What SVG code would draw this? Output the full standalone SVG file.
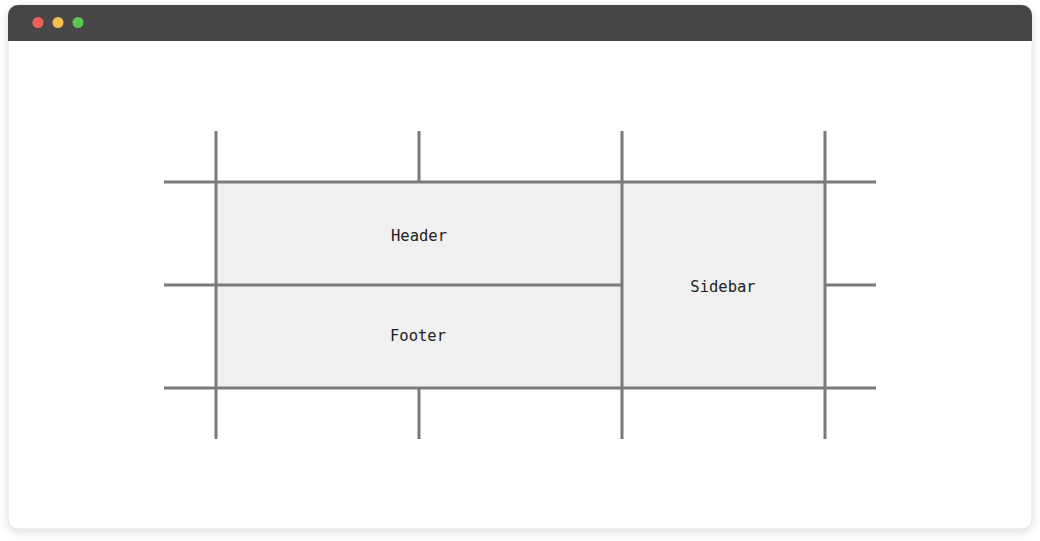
<svg xmlns="http://www.w3.org/2000/svg" width="1040" height="541" viewBox="0 0 1040 541">
<defs>
<filter id="sh" x="-5%" y="-5%" width="110%" height="115%">
<feDropShadow dx="0" dy="3" stdDeviation="4" flood-color="#000" flood-opacity="0.12"/>
</filter>
<clipPath id="win"><rect x="8" y="5" width="1024" height="524" rx="10"/></clipPath>
</defs>
<style>
.g{stroke:#7a7a7a;stroke-width:3;fill:none}
.t{font-family:"DejaVu Sans Mono","Liberation Mono",monospace;font-size:15.5px;fill:#222;text-anchor:middle}
.cell{fill:#f0f0f0}
</style>
<rect width="1040" height="541" fill="#fff"/>
<g id="window">
<rect x="8" y="5" width="1024" height="524" rx="10" fill="#fff" stroke="#e2e2e2" stroke-width="1" filter="url(#sh)"/>
<g clip-path="url(#win)">
<rect x="8" y="5" width="1024" height="36" fill="#474747"/>
</g>
<circle cx="38" cy="22.5" r="5.5" fill="#ee5f57"/>
<circle cx="58" cy="22.5" r="5.5" fill="#f5be4f"/>
<circle cx="78" cy="22.5" r="5.5" fill="#5fc453"/>
</g>
<g id="header"><rect class="cell" x="216" y="182" width="406" height="103"/><text class="t" x="419" y="241">Header</text></g>
<g id="footer"><rect class="cell" x="216" y="285" width="406" height="103"/><text class="t" x="418" y="340.5">Footer</text></g>
<g id="sidebar"><rect class="cell" x="622" y="182" width="203" height="206"/><text class="t" x="723" y="291.5">Sidebar</text></g>
<g id="connectors">
<line class="g" x1="216" y1="131" x2="216" y2="439"/>
<line class="g" x1="419" y1="131" x2="419" y2="182"/>
<line class="g" x1="419" y1="388" x2="419" y2="439"/>
<line class="g" x1="622" y1="131" x2="622" y2="439"/>
<line class="g" x1="825" y1="131" x2="825" y2="439"/>
<line class="g" x1="164" y1="182" x2="876" y2="182"/>
<line class="g" x1="164" y1="285" x2="622" y2="285"/>
<line class="g" x1="825" y1="285" x2="876" y2="285"/>
<line class="g" x1="164" y1="388" x2="876" y2="388"/>
</g>
</svg>
